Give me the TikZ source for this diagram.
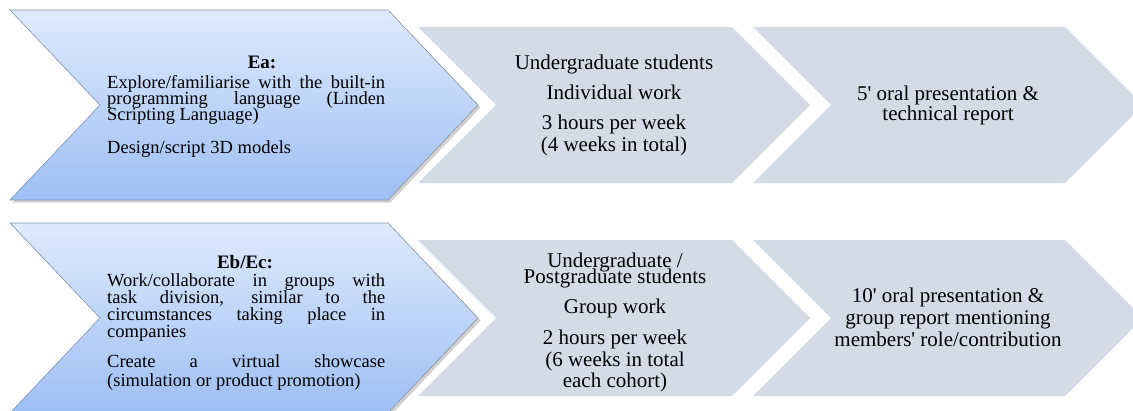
\documentclass[tikz,border=0pt]{standalone}
\usepackage{fontspec}
\setmainfont{Liberation Serif}
\definecolor{bluetop}{HTML}{DFEAFC}
\definecolor{bluebot}{HTML}{9DBFF4}
\definecolor{blueedge}{HTML}{8493A8}
\definecolor{chevgray}{HTML}{D4DBE7}
\begin{document}
\begin{tikzpicture}[x=1pt,y=-1pt,
  bluechev/.style={top color=bluetop,bottom color=bluebot},
  blueline/.style={draw=blueedge,line width=0.6pt,line join=miter},
  shadowchev/.style={fill=black,opacity=0.18},
  graychev/.style={fill=chevgray},
  lt/.style={font=\fontsize{18.5}{18.5}\selectfont,inner sep=0pt,anchor=base west},
  lhead/.style={font=\fontsize{19}{19}\selectfont\bfseries,inner sep=0pt,anchor=base},
  mt/.style={font=\fontsize{21}{21}\selectfont,inner sep=0pt,anchor=base}]
\useasboundingbox (0,0) rectangle (1133,410);
\begin{scope}
\clip (0,0) rectangle (1133,410);
% ---- top row ----
\fill[shadowchev,shift={(2.5,2.5)}] (10,10) -- (388,10) -- (478,105) -- (388,200) -- (10,200) -- (100,105) -- cycle;
\path[bluechev] (10,10) -- (388,10) -- (478,105) -- (388,200) -- (10,200) -- (100,105) -- cycle;
\draw[blueline] (10,10) -- (388,10) -- (478,105) -- (388,200) -- (10,200) -- (100,105) -- cycle;
\fill[graychev] (418,27) -- (732,27) -- (810,105) -- (732,183) -- (418,183) -- (496,105) -- cycle;
\fill[graychev] (753,27) -- (1065,27) -- (1143,105) -- (1065,183) -- (753,183) -- (831,105) -- cycle;
% ---- bottom row ----
\fill[shadowchev,shift={(2.5,2.5)}] (10,223) -- (388,223) -- (478,318) -- (388,413) -- (10,413) -- (100,318) -- cycle;
\path[bluechev] (10,223) -- (388,223) -- (478,318) -- (388,413) -- (10,413) -- (100,318) -- cycle;
\draw[blueline] (10,223) -- (388,223) -- (478,318) -- (388,413) -- (10,413) -- (100,318) -- cycle;
\fill[graychev] (418,240) -- (732,240) -- (810,318) -- (732,396) -- (418,396) -- (496,318) -- cycle;
\fill[graychev] (753,240) -- (1065,240) -- (1143,318) -- (1065,396) -- (753,396) -- (831,318) -- cycle;
\end{scope}
% ---- top row texts ----
\node[lhead] (eah) at (262,68) {Ea:};
\node[lt] (ea1) at (107,88) {\makebox[278pt][s]{Explore/familiarise with the built-in}};
\node[lt] (ea2) at (107,104) {\makebox[278pt][s]{programming language (Linden}};
\node[lt] (ea3) at (107,120) {Scripting Language)};
\node[lt] (ea4) at (107,153) {Design/script 3D models};
\node[mt] (ua1) at (614,69) {Undergraduate students};
\node[mt] (ua2) at (614,99) {Individual work};
\node[mt] (ua3) at (614,129) {3 hours per week};
\node[mt] (ua4) at (614,151) {(4 weeks in total)};
\node[mt] (ra1) at (948,100) {5\textquotesingle{} oral presentation \&};
\node[mt] (ra2) at (948,120) {technical report};
% ---- bottom row texts ----
\node[lhead] (ebh) at (245,268) {Eb/Ec:};
\node[lt] (eb1) at (107,286) {\makebox[278pt][s]{Work/collaborate in groups with}};
\node[lt] (eb2) at (107,303) {\makebox[278pt][s]{task division, similar to the}};
\node[lt] (eb3) at (107,320) {\makebox[278pt][s]{circumstances taking place in}};
\node[lt] (eb4) at (107,337) {companies};
\node[lt] (eb5) at (107,367) {\makebox[278pt][s]{Create a virtual showcase}};
\node[lt] (eb6) at (107,386) {(simulation or product promotion)};
\node[mt] (ub1) at (615,267) {Undergraduate /};
\node[mt] (ub2) at (615,283) {Postgraduate students};
\node[mt] (ub3) at (615,313) {Group work};
\node[mt] (ub4) at (615,344) {2 hours per week};
\node[mt] (ub5) at (615,366) {(6 weeks in total};
\node[mt] (ub6) at (615,387) {each cohort)};
\node[mt] (rb1) at (948,302) {10\textquotesingle{} oral presentation \&};
\node[mt] (rb2) at (948,324) {group report mentioning};
\node[mt] (rb3) at (948,346) {members\textquotesingle{} role/contribution};
\end{tikzpicture}
\end{document}
